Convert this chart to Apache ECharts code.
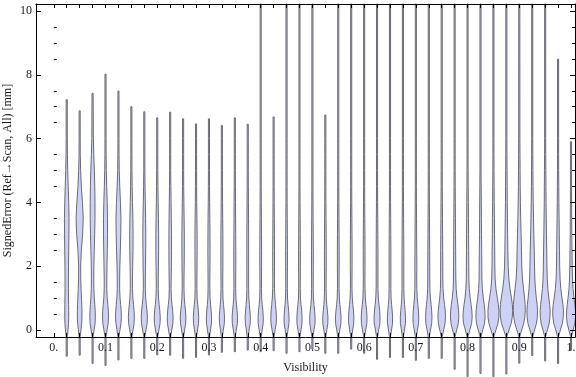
<!DOCTYPE html>
<html>
<head>
<meta charset="utf-8">
<script src="https://cdn.jsdelivr.net/npm/echarts@6/dist/echarts.min.js"></script>
<style>html,body{margin:0;padding:0;background:#fff}#c{width:576px;height:377px}</style>
</head>
<body>
<div id="c"></div>
<script>
// ---------- data ----------
const violinX = [0.025,0.05,0.075,0.1,0.125,0.15,0.175,0.2,0.225,0.25,
                 0.275,0.3,0.325,0.35,0.375,0.4,0.425,0.45,0.475,0.5,
                 0.525,0.55,0.575,0.6,0.625,0.65,0.675,0.7,0.725,0.75,
                 0.775,0.8,0.825,0.85,0.875,0.9,0.925,0.95,0.975,1.0];
const violinMax = [7.22,6.87,7.42,8.02,7.49,7.0,6.84,6.65,6.83,6.62,
                   6.46,6.62,6.41,6.65,6.45,12,6.68,12,12,12,
                   6.74,12,12,12,12,12,12,12,12,12,
                   12,12,12,12,12,12,12,12,8.49,5.9];
const violinMin = [-0.82,-0.79,-1.05,-1.11,-0.94,-0.89,-0.89,-0.78,-0.79,-0.89,
                   -0.86,-0.78,-0.70,-0.68,-0.63,-0.68,-0.65,-0.73,-0.68,-0.60,
                   -0.73,-0.73,-0.60,-0.73,-0.92,-0.86,-0.86,-0.95,-0.89,-0.89,
                   -1.23,-1.46,-1.36,-1.46,-1.38,-1.04,-0.80,-0.97,-1.05,-0.63];
// density levels (y values) and relative half-widths of each violin at those levels
const densityLevels = [-0.2,0,0.2,0.4,0.6,0.8,1.0,1.3,1.6,2.0,2.5,3.0,3.5,4.0,4.5,5.0,5.5,6.0];
const violinDensity = [
 [0.5,1.3,1.8,2.0,2.0,1.9,1.8,1.7,1.7,1.8,2.0,2.2,2.3,2.0,1.5,1.0,0.7,0.5],
 [0.5,1.3,2.0,2.3,2.3,2.1,1.8,1.4,1.1,1.0,1.7,3.0,3.6,2.8,1.7,1.0,0.6,0.5],
 [0.5,1.5,2.5,2.8,2.6,2.2,1.7,1.3,1.2,1.3,1.7,2.1,2.4,2.4,2.2,1.8,1.2,0.8],
 [0.5,1.6,2.6,3.0,2.8,2.3,1.7,1.3,1.3,1.5,1.8,2.0,2.0,1.7,1.2,0.8,0.6,0.5],
 [0.5,1.5,2.5,2.9,2.7,2.2,1.6,1.2,1.2,1.4,1.9,2.3,2.5,2.0,1.3,0.8,0.6,0.5],
 [0.5,1.6,2.7,3.0,2.7,2.1,1.5,1.1,1.1,1.3,1.6,1.7,1.5,1.1,0.8,0.6,0.5,0.5],
 [0.5,1.7,2.8,3.1,2.7,2.0,1.4,1.0,1.0,1.2,1.4,1.5,1.3,1.0,0.7,0.55,0.5,0.5],
 [0.5,1.7,2.8,3.0,2.6,1.9,1.3,1.0,1.0,1.2,1.4,1.4,1.2,0.9,0.7,0.55,0.5,0.5],
 [0.5,1.6,2.7,2.9,2.5,1.8,1.2,0.9,1.0,1.2,1.3,1.3,1.1,0.9,0.7,0.55,0.5,0.5],
 [0.5,1.5,2.6,2.8,2.4,1.7,1.2,0.9,0.9,1.1,1.2,1.2,1.0,0.8,0.6,0.5,0.5,0.5],
 [0.5,1.5,2.5,2.7,2.3,1.7,1.1,0.9,0.9,1.0,1.1,1.1,0.9,0.7,0.6,0.5,0.5,0.5],
 [0.5,1.5,2.5,2.6,2.2,1.6,1.1,0.9,0.9,1.0,1.1,1.0,0.9,0.7,0.6,0.5,0.5,0.5],
 [0.5,1.4,2.4,2.6,2.2,1.6,1.1,0.9,0.9,1.0,1.0,1.0,0.8,0.7,0.6,0.5,0.5,0.5],
 [0.5,1.5,2.5,2.7,2.3,1.6,1.1,0.9,0.9,1.0,1.0,0.9,0.8,0.7,0.6,0.5,0.5,0.5],
 [0.5,1.4,2.4,2.6,2.2,1.6,1.1,0.9,0.9,0.9,0.9,0.9,0.8,0.7,0.6,0.5,0.5,0.5],
 [0.5,1.5,2.5,2.6,2.2,1.5,1.0,0.8,0.8,0.9,0.9,0.8,0.7,0.6,0.55,0.5,0.5,0.5],
 [0.5,1.5,2.6,2.8,2.5,1.9,1.3,0.9,0.8,0.9,0.9,0.8,0.7,0.6,0.55,0.5,0.5,0.5],
 [0.5,1.4,2.4,2.5,2.1,1.5,1.0,0.8,0.8,0.9,0.9,0.8,0.7,0.6,0.55,0.5,0.5,0.5],
 [0.5,1.5,2.5,2.6,2.2,1.5,1.0,0.8,0.8,0.9,0.9,0.8,0.7,0.6,0.55,0.5,0.5,0.5],
 [0.5,1.6,2.6,2.7,2.2,1.5,1.0,0.8,0.8,0.9,0.9,0.8,0.7,0.6,0.55,0.5,0.5,0.5],
 [0.5,1.5,2.5,2.6,2.1,1.4,1.0,0.8,0.8,0.9,0.9,0.8,0.7,0.6,0.55,0.5,0.5,0.5],
 [0.5,1.5,2.6,2.8,2.3,1.6,1.1,0.8,0.8,0.9,0.9,0.8,0.7,0.6,0.55,0.5,0.5,0.5],
 [0.5,1.5,2.5,2.7,2.3,1.6,1.1,0.8,0.8,0.9,0.9,0.8,0.7,0.6,0.55,0.5,0.5,0.5],
 [0.5,1.6,2.7,2.9,2.5,1.8,1.2,0.9,0.8,0.9,0.9,0.8,0.7,0.6,0.55,0.5,0.5,0.5],
 [0.5,1.6,2.8,3.0,2.6,1.9,1.3,0.9,0.9,0.9,0.9,0.8,0.7,0.6,0.55,0.5,0.5,0.5],
 [0.5,1.5,2.5,2.6,2.2,1.6,1.1,0.9,0.9,0.9,0.9,0.8,0.7,0.6,0.55,0.5,0.5,0.5],
 [0.5,1.5,2.5,2.6,2.2,1.6,1.2,0.9,0.9,0.9,0.9,0.8,0.7,0.6,0.55,0.5,0.5,0.5],
 [0.5,1.6,2.7,2.9,2.6,2.0,1.4,1.0,0.9,1.0,0.9,0.8,0.7,0.6,0.55,0.5,0.5,0.5],
 [0.5,1.7,2.9,3.2,2.9,2.3,1.6,1.1,1.0,1.0,0.9,0.8,0.7,0.6,0.55,0.5,0.5,0.5],
 [0.5,1.9,3.3,3.8,3.5,2.8,2.0,1.3,1.1,1.1,1.0,0.9,0.8,0.7,0.6,0.5,0.5,0.5],
 [0.5,2.0,3.6,4.2,4.0,3.3,2.4,1.5,1.2,1.1,1.0,0.9,0.8,0.7,0.6,0.5,0.5,0.5],
 [0.5,2.2,4.0,4.6,4.3,3.5,2.6,1.7,1.3,1.2,1.1,1.0,0.9,0.8,0.65,0.55,0.5,0.5],
 [0.5,2.2,4.0,4.6,4.4,3.7,2.8,1.8,1.4,1.3,1.2,1.0,0.9,0.8,0.65,0.55,0.5,0.5],
 [0.5,2.5,4.5,5.4,5.5,4.9,3.9,2.5,1.7,1.4,1.3,1.1,1.0,0.8,0.7,0.6,0.5,0.5],
 [0.5,2.6,4.8,5.9,6.3,6.0,5.1,3.6,2.5,1.8,1.5,1.3,1.1,0.9,0.8,0.7,0.6,0.5],
 [0.5,2.4,4.4,5.5,6.0,5.9,5.3,4.2,3.2,2.5,2.2,1.8,1.4,1.1,0.9,0.8,0.7,0.6],
 [0.5,2.3,4.2,5.1,5.3,4.9,4.1,3.2,2.6,2.3,2.0,1.6,1.3,1.0,0.8,0.7,0.6,0.5],
 [0.5,2.2,4.0,4.8,5.0,4.5,3.7,2.7,2.1,1.8,1.6,1.3,1.1,0.9,0.8,0.7,0.6,0.5],
 [0.5,2.3,4.3,5.2,5.4,4.9,3.9,2.7,2.0,1.6,1.4,1.2,1.0,0.8,0.7,0.6,0.5,0.5],
 [0.5,2.1,3.8,4.5,4.4,3.8,3.0,2.0,1.5,1.2,1.0,0.8,0.7,0.6,0.5,0.5,0.5,0.5]
];
const xTickValues = [0,0.025,0.05,0.075,0.1,0.125,0.15,0.175,0.2,0.225,0.25,0.275,0.3,0.325,0.35,0.375,0.4,0.425,0.45,0.475,0.5,
                     0.525,0.55,0.575,0.6,0.625,0.65,0.675,0.7,0.725,0.75,0.775,0.8,0.825,0.85,0.875,0.9,0.925,0.95,0.975,1.0];
const xLabelValues = [0,0.1,0.2,0.3,0.4,0.5,0.6,0.7,0.8,0.9,1.0];
const xLabelTexts = ['0.','0.1','0.2','0.3','0.4','0.5','0.6','0.7','0.8','0.9','1.'];
const yMajorTicks = [0,2,4,6,8,10];
const yMinorTicks = [0.5,1,1.5,2.5,3,3.5,4.5,5,5.5,6.5,7,7.5,8.5,9,9.5];

// ---------- styling / layout ----------
const X_MIN = -0.0344, X_MAX = 1.0077, Y_MIN = -0.22, Y_MAX = 10.22;
const WIDTH_UNIT = 0.025 / 12.93;   // x-units per density unit
const TAIL = 0.55;
const FONT = 'Liberation Serif';
const TXT = '#1a1a1a';
const GRID = { left: 36, right: 1, top: 4, bottom: 40, containLabel: false, outerBoundsMode: 'none' };

function renderViolin(params, api) {
  const i = params.dataIndex;
  const x = violinX[i];
  const lo = violinMin[i];
  const hi = Math.min(violinMax[i], Y_MAX);
  const d = violinDensity[i];
  const right = [], left = [];
  const add = (y, w) => {
    right.push(api.coord([x + w * WIDTH_UNIT, y]));
    left.push(api.coord([x - w * WIDTH_UNIT, y]));
  };
  add(lo, TAIL);
  densityLevels.forEach((y, j) => { if (y > lo && y < hi) add(y, Math.max(d[j], TAIL)); });
  add(hi, TAIL);
  const pts = right.concat(left.reverse());
  return {
    type: 'polygon',
    shape: { points: pts, smooth: 0 },
    style: { fill: '#cdd2f5', stroke: '#5c5c66', lineWidth: 0.9 }
  };
}

const tickStyle = { color: '#000', width: 1 };
const lineStyle = { show: true, onZero: false, lineStyle: { color: '#000', width: 1 } };

function yAx(grid, pos, ticks, len, withLine, extra) {
  return Object.assign({
    type: 'value', gridIndex: grid, position: pos, offset: 0, min: Y_MIN, max: Y_MAX, z: 3,
    axisLine: withLine ? lineStyle : { show: false }, splitLine: { show: false },
    axisTick: { show: true, inside: true, length: len, lineStyle: tickStyle, customValues: ticks },
    axisLabel: { show: false }
  }, extra || {});
}

const option = {
  animation: false,
  backgroundColor: '#fff',
  grid: [Object.assign({}, GRID), Object.assign({}, GRID)],
  xAxis: [
    { type: 'value', gridIndex: 0, position: 'bottom', offset: 0, min: X_MIN, max: X_MAX, z: 3,
      axisLine: lineStyle, splitLine: { show: false },
      axisTick: { show: true, inside: true, length: 4, lineStyle: tickStyle, customValues: xTickValues },
      axisLabel: { show: true, margin: 5, fontFamily: FONT, fontSize: 12, color: TXT,
        customValues: xLabelValues,
        formatter: v => { const k = xLabelValues.findIndex(u => Math.abs(u - v) < 1e-6); return k >= 0 ? xLabelTexts[k] : ''; } },
      name: 'Visibility', nameLocation: 'middle', nameGap: 25, nameMoveOverlap: false,
      nameTextStyle: { fontFamily: FONT, fontSize: 12, color: TXT } },
    { type: 'value', gridIndex: 0, position: 'top', offset: 0, min: X_MIN, max: X_MAX, z: 3,
      axisLine: lineStyle, splitLine: { show: false },
      axisTick: { show: true, inside: true, length: 4, lineStyle: tickStyle, customValues: xTickValues },
      axisLabel: { show: false } },
    { type: 'value', gridIndex: 1, min: X_MIN, max: X_MAX, show: false }
  ],
  yAxis: [
    yAx(0, 'left', yMajorTicks, 5, true, {
      axisLabel: { show: true, margin: 4, fontFamily: FONT, fontSize: 12, color: TXT,
        customValues: yMajorTicks, formatter: v => String(v) },
      name: 'SignedError (Ref\u2192Scan, All) [mm]', nameLocation: 'middle', nameGap: 22, nameMoveOverlap: false,
      nameTextStyle: { fontFamily: FONT, fontSize: 12, color: TXT } }),
    yAx(0, 'right', yMajorTicks, 5, true),
    yAx(1, 'left', yMinorTicks, 3, false),
    yAx(1, 'right', yMinorTicks, 3, false)
  ],
  series: [{
    type: 'custom',
    xAxisIndex: 0, yAxisIndex: 0,
    clip: false,
    renderItem: renderViolin,
    data: violinX.map((x, i) => [x, violinMin[i], violinMax[i]])
  }]
};

const chart = echarts.init(document.getElementById('c'), null, { renderer: 'canvas' });
chart.setOption(option);
</script>
</body>
</html>
